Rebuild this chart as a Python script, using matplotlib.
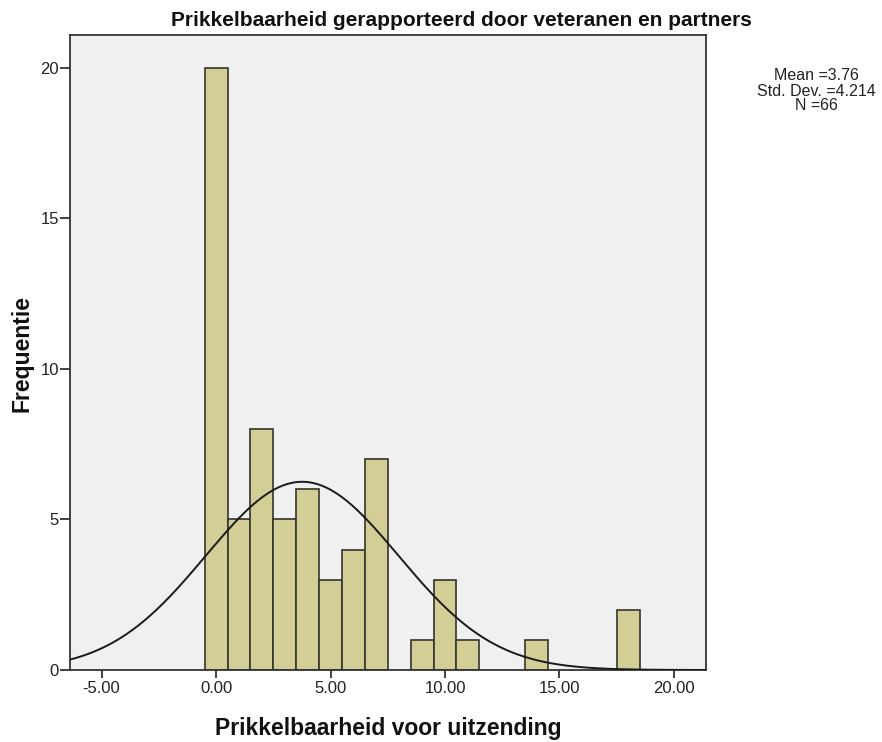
import numpy as np
import matplotlib
matplotlib.use("Agg")
import matplotlib.pyplot as plt

plt.rcParams['font.family'] = ['Liberation Sans', 'DejaVu Sans']

# Score values (bin centres, width 1) and their frequencies
scores = [0, 1, 2, 3, 4, 5, 6, 7, 9, 10, 11, 14, 18]
counts = [20, 5, 8, 5, 6, 3, 4, 7, 1, 3, 1, 1, 2]

mean = 3.76
std = 4.214
n = 66

title = "Prikkelbaarheid gerapporteerd door veteranen en partners"
xlabel = "Prikkelbaarheid voor uitzending"
ylabel = "Frequentie"
xticks = [-5, 0, 5, 10, 15, 20]
yticks = [0, 5, 10, 15, 20]

W, H = 882, 742
fig = plt.figure(figsize=(W / 100, H / 100), dpi=100)
ax = fig.add_axes([70 / W, 1 - 670 / H, 636 / W, 635 / H])
ax.set_facecolor('#F0F0F0')

ax.bar(scores, counts, width=1.0, color='#D3CE95', edgecolor='#35342A',
       linewidth=1.2, zorder=2)

xmin, xmax = -6.38, 21.4
xs = np.linspace(xmin, xmax, 400)
pdf = np.exp(-0.5 * ((xs - mean) / std) ** 2) / (std * np.sqrt(2 * np.pi))
ax.plot(xs, n * 1.0 * pdf, color='#1a1a1a', linewidth=1.4, zorder=3)

ax.set_xlim(xmin, xmax)
ax.set_ylim(0, 21.08)
ax.set_xticks(xticks)
ax.set_xticklabels([f"{v:.2f}" for v in xticks])
ax.set_yticks(yticks)
ax.tick_params(axis='both', labelsize=12, color='#333333', labelcolor='#222222',
               width=1.3)
ax.tick_params(axis='x', length=6, pad=2)
ax.tick_params(axis='y', length=7, pad=1)
for s in ax.spines.values():
    s.set_color('#333333')
    s.set_linewidth(1.3)

fig.text(461 / W, 1 - 20 / H, title, ha='center', va='center',
         fontsize=15, fontweight='bold', color='#111111')
fig.text(388 / W, 1 - 729 / H, xlabel, ha='center', va='center',
         fontsize=16.5, fontweight='bold', color='#111111')
fig.text(22 / W, 1 - 354 / H, ylabel, ha='center', va='center',
         rotation=90, fontsize=16.5, fontweight='bold', color='#111111')

fig.text(816 / W, 1 - 91 / H,
         f"Mean ={mean:.2f}\nStd. Dev. ={std:.3f}\nN ={n}",
         ha='center', va='center', fontsize=11.5, linespacing=1.0, color='#222222')

fig.savefig("out.png", dpi=100, facecolor='white')
